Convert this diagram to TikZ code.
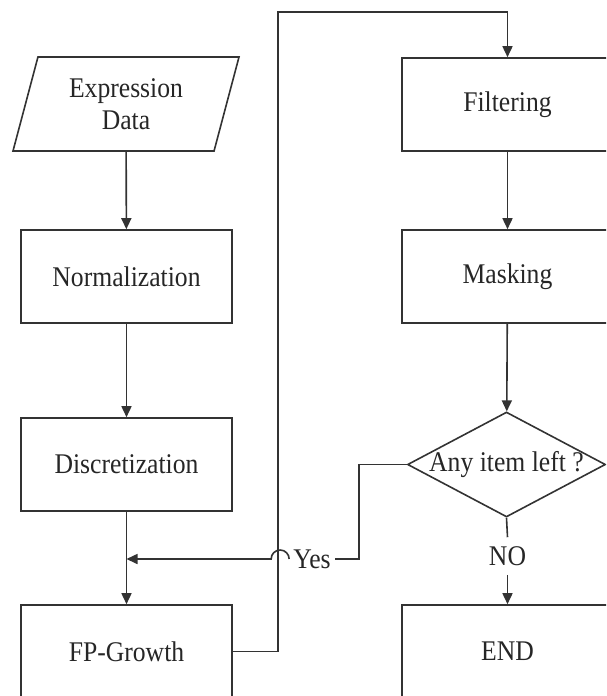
\documentclass[tikz,border=0pt]{standalone}
\usepackage{fontspec}
\setmainfont[FakeStretch=0.9]{Liberation Serif}
\usetikzlibrary{shapes.geometric,arrows.meta}
\begin{document}
\begin{tikzpicture}[x=1pt,y=1pt,
  every node/.style={text=black!85, font=\fontsize{28.5}{32}\selectfont},
  line/.style={draw=black!80, line width=1.6pt},
  flow/.style={line, -{Triangle[length=11pt,width=10pt]}},
  procbox/.style={line, rectangle, minimum width=211pt, minimum height=93pt, inner sep=0pt},
  iobox/.style={line, trapezium, trapezium left angle=64, trapezium right angle=116,
    trapezium stretches body, minimum width=226pt, minimum height=94pt, inner sep=0pt,
    align=center},
  decision/.style={line, diamond, aspect=1.9, minimum width=198pt, minimum height=105pt,
    inner xsep=-15pt, inner ysep=0pt},
  label/.style={inner sep=0pt}
]
\useasboundingbox (0,0) rectangle (606,-696);
\clip (0,0) rectangle (606,-696);

% left column
\node[iobox]   (expr) at (126,-104)   {Expression\\Data};
\node[procbox] (norm) at (126.5,-276.5) {Normalization};
\node[procbox] (disc) at (126.5,-464.5) {Discretization};
\node[procbox] (fp)   at (126.5,-651.5) {FP-Growth};

% right column
\node[procbox]  (filt) at (507.5,-104.5) {Filtering};
\node[procbox]  (mask) at (507.5,-276.5) {Masking};
\node[decision] (dec)  at (506.5,-464.5) {Any item left ?};
\node[procbox]  (fin)  at (507.5,-651.5) {END};

% branch labels
\node[label, inner xsep=4pt] (yes) at (312,-559) {Yes};
\node[label, inner ysep=9pt] (no)  at (507.5,-556) {NO};

% route points
\coordinate (join)  at (126.5,-559);
\coordinate (up)    at (278,-12);
\coordinate (bend)  at (359,-559);

% main flow
\draw[flow] (expr) -- (norm);
\draw[flow] (norm) -- (disc);
\draw[flow] (disc) -- (fp);
\draw[flow] (fp.east) -| (up) -| (filt.north);
\draw[flow] (filt) -- (mask);
\draw[flow] (mask) -- (dec);

% decision branches
\draw[line] (dec.west) -| (bend) -- (yes.east);
\draw[flow] (yes.west) arc[start angle=0, end angle=180, radius=9] -- (join);
\draw[line] (dec.south) -- (no.north);
\draw[flow] (no.south) -- (fin.north);
\end{tikzpicture}
\end{document}
